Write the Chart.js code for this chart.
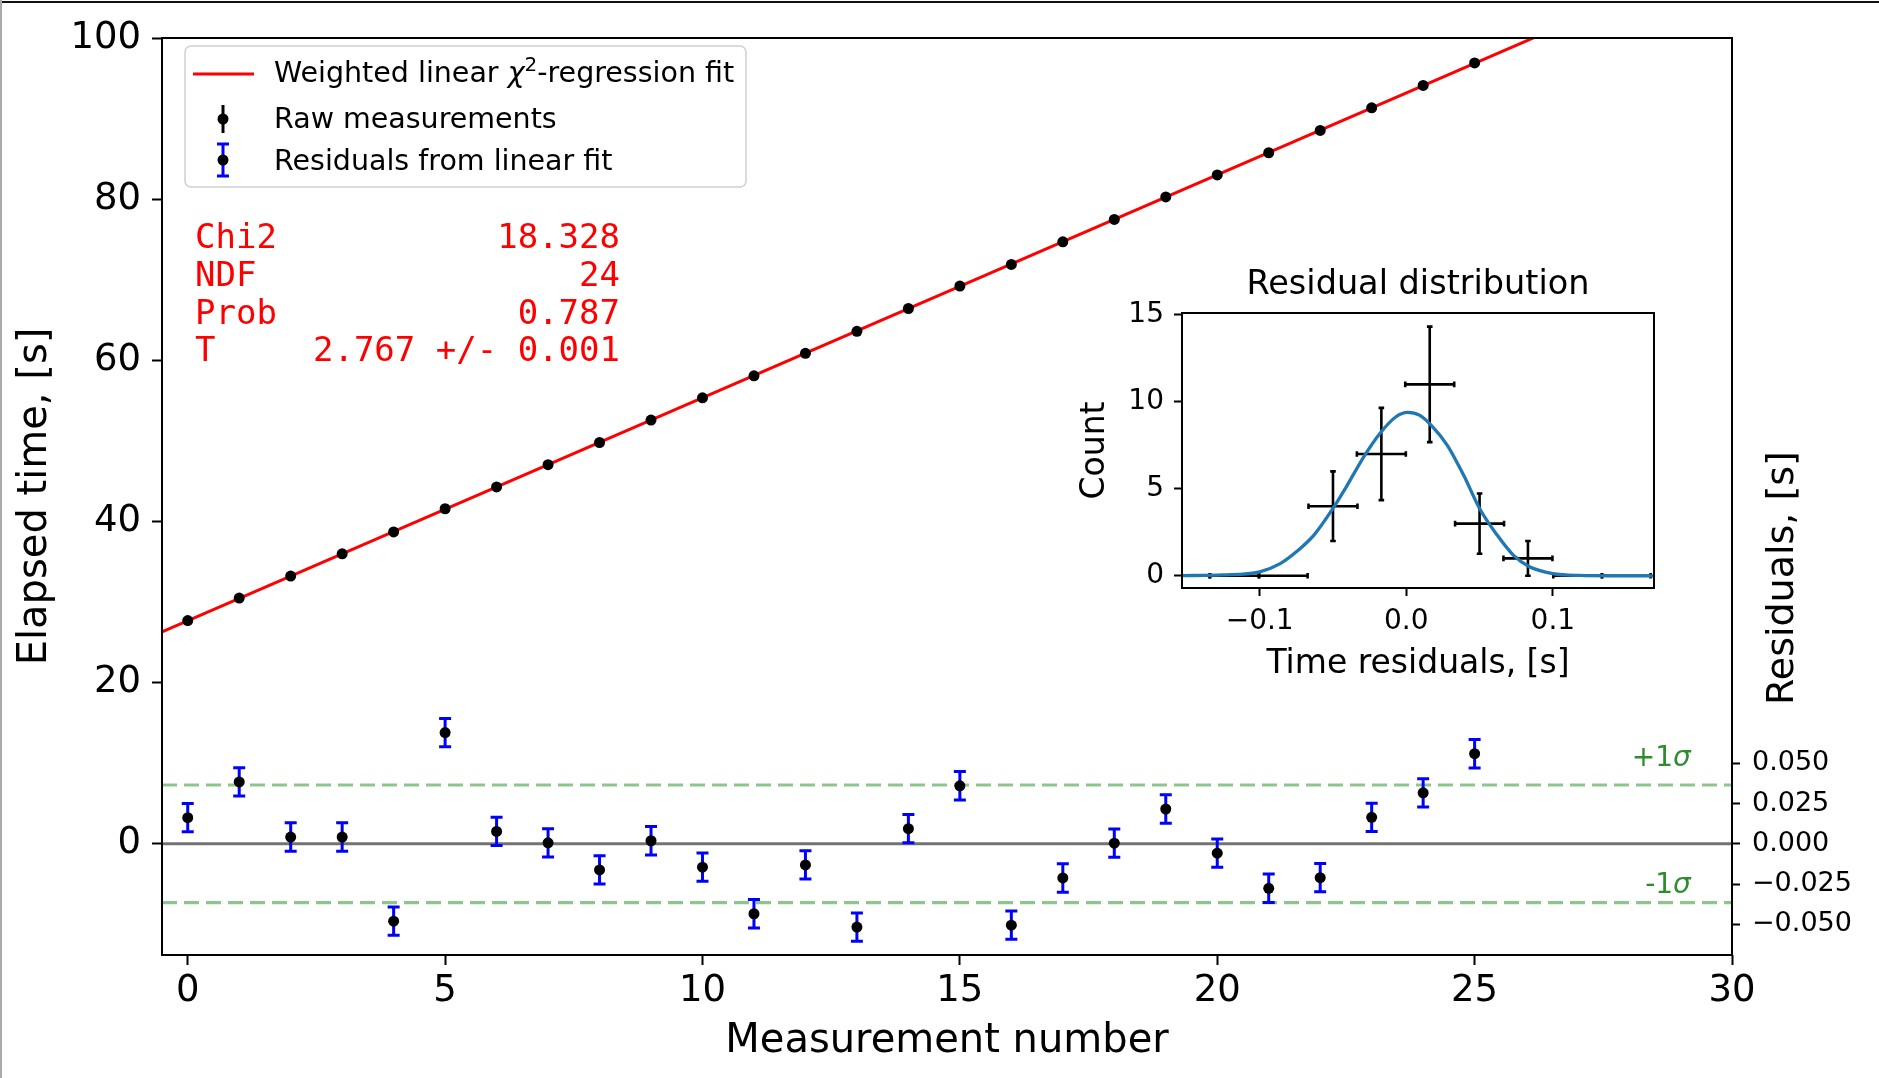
<!DOCTYPE html>
<html>
<head>
<meta charset="utf-8">
<title>Elapsed time vs measurement number</title>
<script src="https://cdn.jsdelivr.net/npm/chart.js@4.4.1/dist/chart.umd.min.js"></script>
<style>
  html, body { margin: 0; padding: 0; background: #fff; }
  #wrap { position: relative; width: 1879px; height: 1078px; overflow: hidden; }
  #main { position: absolute; left: 0; top: 0; }
  #inset { position: absolute; left: 1062px; top: 262px; }
  .edgeTop { position: absolute; left: 0; top: 1px; width: 1879px; height: 2px; background: #111; }
  .edgeLeft { position: absolute; left: 0; top: 0; width: 2px; height: 1078px; background: #aaa; }
</style>
</head>
<body>
<div id="wrap">
  <canvas id="main" width="1879" height="1078"></canvas>
  <canvas id="inset" width="600" height="430"></canvas>
  <div class="edgeTop"></div>
  <div class="edgeLeft"></div>
</div>
<script>
const measurement = [0, 1, 2, 3, 4, 5, 6, 7, 8, 9, 10, 11, 12, 13, 14, 15, 16, 17, 18, 19, 20, 21, 22, 23, 24, 25];
const elapsed = [27.70, 30.49, 33.22, 35.99, 38.70, 41.58, 44.29, 47.05, 49.80, 52.59, 55.34, 58.07, 60.87,
                 63.60, 66.43, 69.22, 71.90, 74.70, 77.49, 80.28, 83.01, 85.76, 88.53, 91.34, 94.12, 96.91];
const residual = [0.0162, 0.0384, 0.0042, 0.0042, -0.0480, 0.0690, 0.0077, 0.0006, -0.0162, 0.0019, -0.0145,
                  -0.0434, -0.0131, -0.0517, 0.0094, 0.0360, -0.0505, -0.0212, 0.0004, 0.0216, -0.0058,
                  -0.0276, -0.0210, 0.0164, 0.0316, 0.0559];
const residualErr = [0.0088, 0.0088, 0.0088, 0.0088, 0.0088, 0.0088, 0.0088, 0.0088, 0.0088, 0.0088, 0.0088,
                     0.0088, 0.0088, 0.0088, 0.0088, 0.0088, 0.0088, 0.0088, 0.0088, 0.0088, 0.0088,
                     0.0088, 0.0088, 0.0088, 0.0088, 0.0088];
const fitX = [-0.5, 30];
const fitY = [26.30, 110.69];
const sigmaRes = 0.0365;

const xTicks = [0, 5, 10, 15, 20, 25, 30];
const timeTicks = [0, 20, 40, 60, 80, 100];
const residTicks = [-0.05, -0.025, 0, 0.025, 0.05];

const statNames = ['Chi2', 'NDF', 'Prob', 'T'];
const statValues = ['18.328', '24', '0.787', '2.767 +/- 0.001'];

// Histograma de residuos
const binCenters = [-0.151, -0.117, -0.084, -0.050, -0.017, 0.016, 0.050, 0.083, 0.117, 0.150];
const binCounts = [0, 0, 0, 4, 7, 11, 3, 1, 0, 0];
const binCountErr = [0, 0, 0, 2.0, 2.65, 3.32, 1.73, 1.0, 0, 0];
const binHalfWidth = [0.0167, 0.0167, 0.0167, 0.0167, 0.0167, 0.0167, 0.0167, 0.0167, 0.0167, 0.0167];
const gaussX = [-0.153, -0.125, -0.1, -0.086, -0.075, -0.063, -0.05, -0.041, -0.029, -0.018, -0.007, 0.001,
                0.009, 0.018, 0.028, 0.039, 0.05, 0.062, 0.073, 0.084, 0.1, 0.118, 0.14, 0.169];
const gaussY = [0.01, 0.05, 0.23, 0.7, 1.38, 2.34, 3.87, 5.1, 6.84, 8.18, 9.14, 9.39,
                9.23, 8.56, 7.5, 5.8, 3.87, 2.34, 1.19, 0.52, 0.13, 0.02, 0, 0];
const histXTicks = [-0.1, 0, 0.1];
const histYTicks = [0, 5, 10, 15];

const SANS = "'DejaVu Sans', sans-serif";
const MONO = "'DejaVu Sans Mono', monospace";
Chart.defaults.font.family = SANS;
Chart.defaults.color = '#000';

const fixTicks = vals => scale => { scale.ticks = vals.map(v => ({ value: v })); };
const minus = s => s.replace('-', '\u2212');

// barras de error dibujadas con las escalas del grafico
const errorBars = {
    id: 'errorBars',
    beforeDatasetDraw(chart, args) {
        const ds = chart.data.datasets[args.index];
        if (!ds.errBars) return;
        const eb = ds.errBars;
        const xs = chart.scales[ds.xAxisID || 'x'];
        const ys = chart.scales[ds.yAxisID || 'y'];
        const a = chart.chartArea;
        const ctx = chart.ctx;
        ctx.save();
        ctx.beginPath();
        ctx.rect(a.left, a.top, a.right - a.left, a.bottom - a.top);
        ctx.clip();
        ctx.strokeStyle = eb.color;
        ctx.lineWidth = eb.width;
        ds.data.forEach((p, i) => {
            const px = xs.getPixelForValue(p.x);
            const py = ys.getPixelForValue(p.y);
            const ye = eb.yerr ? eb.yerr[i] : 0;
            const xe = eb.xerr ? eb.xerr[i] : 0;
            ctx.beginPath();
            if (ye > 0) {
                const y1 = ys.getPixelForValue(p.y - ye), y2 = ys.getPixelForValue(p.y + ye);
                ctx.moveTo(px, y1); ctx.lineTo(px, y2);
                ctx.moveTo(px - eb.cap, y1); ctx.lineTo(px + eb.cap, y1);
                ctx.moveTo(px - eb.cap, y2); ctx.lineTo(px + eb.cap, y2);
            }
            if (xe > 0) {
                const x1 = xs.getPixelForValue(p.x - xe), x2 = xs.getPixelForValue(p.x + xe);
                ctx.moveTo(x1, py); ctx.lineTo(x2, py);
                ctx.moveTo(x1, py - eb.cap); ctx.lineTo(x1, py + eb.cap);
                ctx.moveTo(x2, py - eb.cap); ctx.lineTo(x2, py + eb.cap);
            }
            ctx.stroke();
        });
        ctx.restore();
    }
};

const frame = {
    id: 'frame',
    afterDatasetsDraw(chart) {
        const a = chart.chartArea, ctx = chart.ctx;
        ctx.save();
        ctx.strokeStyle = '#000';
        ctx.lineWidth = 2;
        ctx.strokeRect(a.left, a.top, a.right - a.left, a.bottom - a.top);
        ctx.restore();
    }
};

// leyenda, cuadro de estadisticas y etiquetas extra
const decor = {
    id: 'decor',
    afterDraw(chart) {
        const ctx = chart.ctx;
        const y2 = chart.scales.y2, x = chart.scales.x;
        ctx.save();

        // leyenda
        ctx.beginPath();
        ctx.roundRect(185, 46, 561, 141, 6);
        ctx.fillStyle = 'rgba(255,255,255,0.8)';
        ctx.fill();
        ctx.strokeStyle = '#d0d0d0';
        ctx.lineWidth = 1.5;
        ctx.stroke();

        ctx.strokeStyle = '#ff0000';
        ctx.lineWidth = 3;
        ctx.beginPath(); ctx.moveTo(193, 74); ctx.lineTo(254, 74); ctx.stroke();

        ctx.strokeStyle = '#000';
        ctx.lineWidth = 3;
        ctx.beginPath(); ctx.moveTo(223, 105); ctx.lineTo(223, 133); ctx.stroke();
        ctx.strokeStyle = '#0000ff';
        ctx.beginPath();
        ctx.moveTo(223, 144); ctx.lineTo(223, 176);
        ctx.moveTo(217, 144); ctx.lineTo(229, 144);
        ctx.moveTo(217, 176); ctx.lineTo(229, 176);
        ctx.stroke();
        ctx.fillStyle = '#000';
        [119, 160].forEach(cy => { ctx.beginPath(); ctx.arc(223, cy, 5.5, 0, 2 * Math.PI); ctx.fill(); });

        ctx.textBaseline = 'alphabetic';
        ctx.textAlign = 'left';
        let tx = 274;
        const seg = (txt, font, dy) => {
            ctx.font = font;
            ctx.fillText(txt, tx, 82 + dy);
            tx += ctx.measureText(txt).width;
        };
        seg('Weighted linear ', '28.5px ' + SANS, 0);
        seg('\u03c7', 'italic 28.5px ' + SANS, 0);
        seg('2', '20px ' + SANS, -11);
        seg('-regression fit', '28.5px ' + SANS, 0);
        ctx.font = '28.5px ' + SANS;
        ctx.fillText('Raw measurements', 274, 128);
        ctx.fillText('Residuals from linear fit', 274, 170);

        // estadisticas del ajuste
        ctx.fillStyle = '#ff0000';
        ctx.font = '34px ' + MONO;
        statNames.forEach((n, i) => {
            const by = 248 + 37.8 * i;
            ctx.textAlign = 'left';
            ctx.fillText(n, 195, by);
            ctx.textAlign = 'right';
            ctx.fillText(statValues[i], 620, by);
        });

        // etiquetas de sigma
        ctx.fillStyle = '#2e8b2e';
        ctx.textAlign = 'right';
        const sigLabel = (sign, val) => {
            const rx = x.getPixelForValue(29.2);
            const by = y2.getPixelForValue(val);
            ctx.font = 'italic 28px ' + SANS;
            const w = ctx.measureText('\u03c3').width;
            ctx.fillText('\u03c3', rx, by);
            ctx.font = '28px ' + SANS;
            ctx.fillText(sign + '1', rx - w, by);
        };
        sigLabel('+', 0.0484);
        sigLabel('-', -0.0305);

        // titulo del eje derecho
        ctx.fillStyle = '#000';
        ctx.font = '38px ' + SANS;
        ctx.textAlign = 'center';
        ctx.translate(1793, 578);
        ctx.rotate(-Math.PI / 2);
        ctx.fillText('Residuals, [s]', 0, 0);
        ctx.restore();
    }
};

const tickGrid = len => ({ display: true, drawOnChartArea: false, drawTicks: true, tickLength: len, tickWidth: 2, tickColor: '#000' });

new Chart(document.getElementById('main').getContext('2d'), {
    type: 'scatter',
    data: {
        datasets: [
            {
                label: 'Raw measurements',
                data: measurement.map((m, i) => ({ x: m, y: elapsed[i] })),
                yAxisID: 'y',
                pointRadius: 5.5, pointBackgroundColor: '#000', pointBorderWidth: 0
            },
            {
                label: 'Weighted linear fit',
                data: fitX.map((v, i) => ({ x: v, y: fitY[i] })),
                yAxisID: 'y',
                showLine: true, borderColor: '#ff0000', borderWidth: 3, pointRadius: 0
            },
            {
                label: 'Residuals from linear fit',
                data: measurement.map((m, i) => ({ x: m, y: residual[i] })),
                yAxisID: 'y2',
                pointRadius: 5.5, pointBackgroundColor: '#000', pointBorderWidth: 0,
                errBars: { yerr: residualErr, color: '#0000ff', width: 3, cap: 6 }
            },
            {
                label: 'zero',
                data: [{ x: -0.5, y: 0 }, { x: 30, y: 0 }],
                yAxisID: 'y2',
                showLine: true, borderColor: 'rgba(0,0,0,0.55)', borderWidth: 3, pointRadius: 0
            },
            {
                label: '+1 sigma',
                data: [{ x: -0.5, y: sigmaRes }, { x: 30, y: sigmaRes }],
                yAxisID: 'y2',
                showLine: true, borderColor: 'rgba(0,128,0,0.45)', borderWidth: 3.2, borderDash: [15, 7], pointRadius: 0
            },
            {
                label: '-1 sigma',
                data: [{ x: -0.5, y: -sigmaRes }, { x: 30, y: -sigmaRes }],
                yAxisID: 'y2',
                showLine: true, borderColor: 'rgba(0,128,0,0.45)', borderWidth: 3.2, borderDash: [15, 7], pointRadius: 0
            }
        ]
    },
    options: {
        responsive: false,
        animation: false,
        layout: { padding: { top: 38, left: 0, right: 0, bottom: 0 } },
        plugins: { legend: { display: false }, tooltip: { enabled: false } },
        scales: {
            x: {
                type: 'linear', min: -0.5, max: 30,
                afterBuildTicks: fixTicks(xTicks),
                afterFit: s => { s.height = 123; },
                grid: tickGrid(10),
                border: { display: false },
                ticks: { font: { size: 37 }, color: '#000', padding: 4, maxRotation: 0, autoSkip: false },
                title: { display: true, text: 'Measurement number', font: { size: 40 }, color: '#000', padding: { top: 0, bottom: 12 } }
            },
            y: {
                position: 'left', min: -13.8, max: 100,
                afterBuildTicks: fixTicks(timeTicks),
                afterFit: s => { s.width = 162; },
                grid: tickGrid(10),
                border: { display: false },
                ticks: { font: { size: 37 }, color: '#000', padding: 11 },
                title: { display: true, text: 'Elapsed time, [s]', font: { size: 40 }, color: '#000', padding: { top: 12, bottom: 0 } }
            },
            y2: {
                position: 'right', min: -0.069, max: 0.5,
                afterBuildTicks: fixTicks(residTicks),
                afterFit: s => { s.width = 147; },
                grid: tickGrid(8),
                border: { display: false },
                ticks: { font: { size: 27 }, color: '#000', padding: 12, callback: v => minus(v.toFixed(3)) }
            }
        }
    },
    plugins: [errorBars, frame, decor]
});

// grafico interior: distribucion de residuos
const insetTitle = {
    id: 'insetTitle',
    afterDraw(chart) {
        const a = chart.chartArea, ctx = chart.ctx;
        ctx.save();
        ctx.fillStyle = '#000';
        ctx.font = '33.5px ' + SANS;
        ctx.textAlign = 'center';
        ctx.textBaseline = 'middle';
        ctx.fillText('Residual distribution', (a.left + a.right) / 2, 23);
        ctx.restore();
    }
};

new Chart(document.getElementById('inset').getContext('2d'), {
    type: 'scatter',
    data: {
        datasets: [
            {
                label: 'Gaussian fit',
                data: gaussX.map((v, i) => ({ x: v, y: gaussY[i] })),
                showLine: true, borderColor: '#1f77b4', borderWidth: 3.3, pointRadius: 0,
                cubicInterpolationMode: 'monotone'
            },
            {
                label: 'Counts',
                data: binCenters.map((v, i) => ({ x: v, y: binCounts[i] })),
                pointRadius: 0,
                errBars: { yerr: binCountErr, xerr: binHalfWidth, color: '#000', width: 2.6, cap: 2.8 }
            }
        ]
    },
    options: {
        responsive: false,
        animation: false,
        layout: { padding: { top: 51, right: 8, left: 0, bottom: 0 } },
        plugins: { legend: { display: false }, tooltip: { enabled: false } },
        scales: {
            x: {
                type: 'linear', min: -0.153, max: 0.169,
                afterBuildTicks: fixTicks(histXTicks),
                afterFit: s => { s.height = 104; },
                grid: tickGrid(8),
                border: { display: false },
                ticks: { font: { size: 28 }, color: '#000', padding: 9, callback: v => v === 0 ? '0.0' : minus(v.toFixed(1)) },
                title: { display: true, text: 'Time residuals, [s]', font: { size: 33 }, color: '#000', padding: { top: 0, bottom: 8 } }
            },
            y: {
                min: -0.7, max: 15.1,
                afterBuildTicks: fixTicks(histYTicks),
                afterFit: s => { s.width = 120; },
                grid: tickGrid(8),
                border: { display: false },
                ticks: { font: { size: 28 }, color: '#000', padding: 10 },
                title: { display: true, text: 'Count', font: { size: 33 }, color: '#000', padding: { top: 14, bottom: 0 } }
            }
        }
    },
    plugins: [errorBars, frame, insetTitle]
});
</script>
</body>
</html>
